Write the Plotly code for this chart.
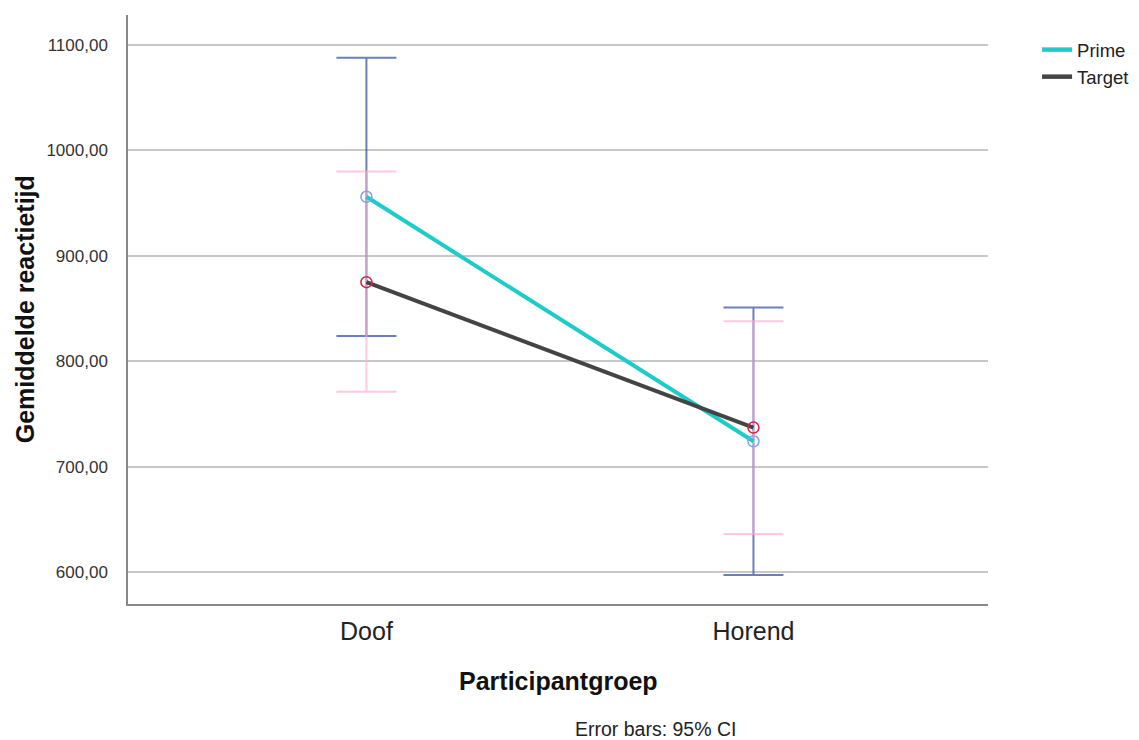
import plotly.graph_objects as go

categories = ["Doof", "Horend"]
series_names = ["Prime", "Target"]
prime_mean = [956, 724]
prime_lo = [824, 597]
prime_hi = [1088, 851]
target_mean = [875, 737]
target_lo = [771, 636]
target_hi = [980, 838]
y_ticks = [600, 700, 800, 900, 1000, 1100]

xs = list(range(len(categories)))

fig = go.Figure()

def err_trace(mean, lo, hi, color):
    return go.Scatter(
        x=xs, y=mean, mode="markers",
        marker=dict(size=1, color="rgba(0,0,0,0)"),
        error_y=dict(type="data", symmetric=False,
                     array=[h - m for h, m in zip(hi, mean)],
                     arrayminus=[m - l for m, l in zip(mean, lo)],
                     color=color, thickness=2, width=30),
        showlegend=False, hoverinfo="skip")

fig.add_trace(err_trace(prime_mean, prime_lo, prime_hi, "rgba(70,95,170,0.8)"))
fig.add_trace(err_trace(target_mean, target_lo, target_hi, "rgba(255,170,210,0.65)"))

line_styles = [("#1ecbcb", "#7aa6e6"), ("#444444", "#d42048")]
for name, mean, (lc, mc) in zip(series_names, [prime_mean, target_mean], line_styles):
    fig.add_trace(go.Scatter(
        x=xs, y=mean, mode="lines+markers", name=name, showlegend=False,
        line=dict(color=lc, width=4),
        marker=dict(symbol="circle-open", size=11, color=mc, line=dict(width=1.5))))
for name, (lc, mc) in zip(series_names, line_styles):
    fig.add_trace(go.Scatter(
        x=[None], y=[None], mode="lines", name=name,
        line=dict(color=lc, width=4.5)))

fig.update_layout(
    width=1139, height=740,
    margin=dict(l=128, r=151, t=15, b=136),
    paper_bgcolor="white", plot_bgcolor="white",
    separators=",.",
    font=dict(family="Liberation Sans, Arial, sans-serif", color="#222"),
    showlegend=True,
    legend=dict(xref="container", yref="container", x=0.9105, y=0.958,
                xanchor="left", yanchor="top",
                font=dict(size=18.5, color="#222"), tracegroupgap=0,
                itemwidth=30, bgcolor="rgba(0,0,0,0)", borderwidth=0),
)

fig.update_xaxes(
    range=[-0.616, 1.606], tickvals=xs, ticktext=categories,
    showgrid=False, zeroline=False,
    showline=True, linecolor="#888", linewidth=1.5,
    tickfont=dict(size=25, color="#222"), ticks="", ticklabelstandoff=4)
fig.update_yaxes(
    range=[569.6, 1128.5], tickvals=y_ticks, tickformat=".2f",
    showgrid=True, gridcolor="#c8c8c8", gridwidth=1.5, zeroline=False,
    showline=True, linecolor="#888", linewidth=1.5,
    tickfont=dict(size=17, color="#333"), ticks="", ticklabelstandoff=15)

fig.add_annotation(text="<b>Gemiddelde reactietijd</b>", xref="paper", yref="paper",
                   x=-0.12, y=0.5, textangle=-90, showarrow=False,
                   font=dict(size=25, color="#111"), xanchor="center", yanchor="middle")
fig.add_annotation(text="<b>Participantgroep</b>", xref="paper", yref="paper",
                   x=0.5, y=-0.131, showarrow=False,
                   font=dict(size=25, color="#111"), xanchor="center", yanchor="middle")
fig.add_annotation(text="Error bars: 95% CI", xref="paper", yref="paper",
                   x=0.613, y=-0.212, showarrow=False,
                   font=dict(size=19.5, color="#222"), xanchor="center", yanchor="middle")

fig.write_html("out.html", config={"displayModeBar": False},
               post_script="document.body.style.margin='0';document.body.style.overflow='hidden';")
